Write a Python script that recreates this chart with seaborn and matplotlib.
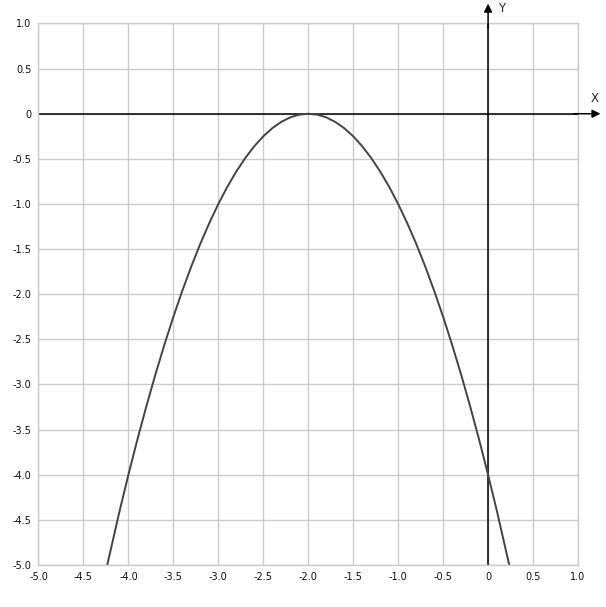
import matplotlib
matplotlib.use("Agg")
import matplotlib.pyplot as plt
import pandas as pd
import seaborn as sns

# curve points (parabola with its top at x = -2)
curve_x = [-4.24, -4.1, -4.0, -3.9, -3.8, -3.7, -3.6, -3.5, -3.4, -3.3, -3.2,
           -3.1, -3.0, -2.9, -2.8, -2.7, -2.6, -2.5, -2.4, -2.3, -2.2, -2.1,
           -2.0, -1.9, -1.8, -1.7, -1.6, -1.5, -1.4, -1.3, -1.2, -1.1, -1.0,
           -0.9, -0.8, -0.7, -0.6, -0.5, -0.4, -0.3, -0.2, -0.1, 0.0, 0.1, 0.24]
curve_y = [-5.02, -4.41, -4.0, -3.61, -3.24, -2.89, -2.56, -2.25, -1.96, -1.69,
           -1.44, -1.21, -1.0, -0.81, -0.64, -0.49, -0.36, -0.25, -0.16, -0.09,
           -0.04, -0.01, 0.0, -0.01, -0.04, -0.09, -0.16, -0.25, -0.36, -0.49,
           -0.64, -0.81, -1.0, -1.21, -1.44, -1.69, -1.96, -2.25, -2.56, -2.89,
           -3.24, -3.61, -4.0, -4.41, -5.02]

x_ticks = [-5.0, -4.5, -4.0, -3.5, -3.0, -2.5, -2.0, -1.5, -1.0, -0.5, 0.0, 0.5, 1.0]
y_ticks = [1.0, 0.5, 0.0, -0.5, -1.0, -1.5, -2.0, -2.5, -3.0, -3.5, -4.0, -4.5, -5.0]


def fmt(v):
    return "0" if v == 0 else f"{v:.1f}"


sns.set_style("white")
plt.rcParams["font.family"] = ["DejaVu Sans"]

fig = plt.figure(figsize=(6.06, 6.07), dpi=100)
ax = fig.add_axes([0.0635, 0.0692, 0.8903, 0.8921])

df = pd.DataFrame({"x": curve_x, "y": curve_y})
sns.lineplot(data=df, x="x", y="y", sort=False, color="#444444", linewidth=1.4, ax=ax)

ax.set_xlim(-5, 1)
ax.set_ylim(-5, 1)
ax.set_xticks(x_ticks)
ax.set_yticks(y_ticks)
ax.set_xticklabels([fmt(v) for v in x_ticks], fontsize=7, color="#111111")
ax.set_yticklabels([fmt(v) for v in y_ticks], fontsize=7, color="#111111")
ax.tick_params(length=0, pad=5)
ax.grid(True, color="#cccccc", linewidth=1)
ax.set_axisbelow(True)
for s in ax.spines.values():
    s.set_color("#cccccc")
    s.set_linewidth(1)
ax.set_xlabel("")
ax.set_ylabel("")

# coordinate axes with arrows, running past the grid
ax.axhline(0, color="black", linewidth=1.1, zorder=1)
ax.axvline(0, color="black", linewidth=1.1, zorder=1)
ax.annotate("", xy=(1.25, 0), xytext=(0.95, 0), xycoords="data",
            arrowprops=dict(arrowstyle="-|>", color="black", lw=1.1,
                            mutation_scale=12, shrinkA=0, shrinkB=0),
            annotation_clip=False)
ax.annotate("", xy=(0, 1.22), xytext=(0, 0.95), xycoords="data",
            arrowprops=dict(arrowstyle="-|>", color="black", lw=1.1,
                            mutation_scale=12, shrinkA=0, shrinkB=0),
            annotation_clip=False)
ax.text(1.19, 0.1, "X", fontsize=8.5, ha="center", va="bottom", clip_on=False)
ax.text(0.155, 1.17, "Y", fontsize=8.5, ha="center", va="center", clip_on=False)

fig.savefig("out.png", dpi=100)
